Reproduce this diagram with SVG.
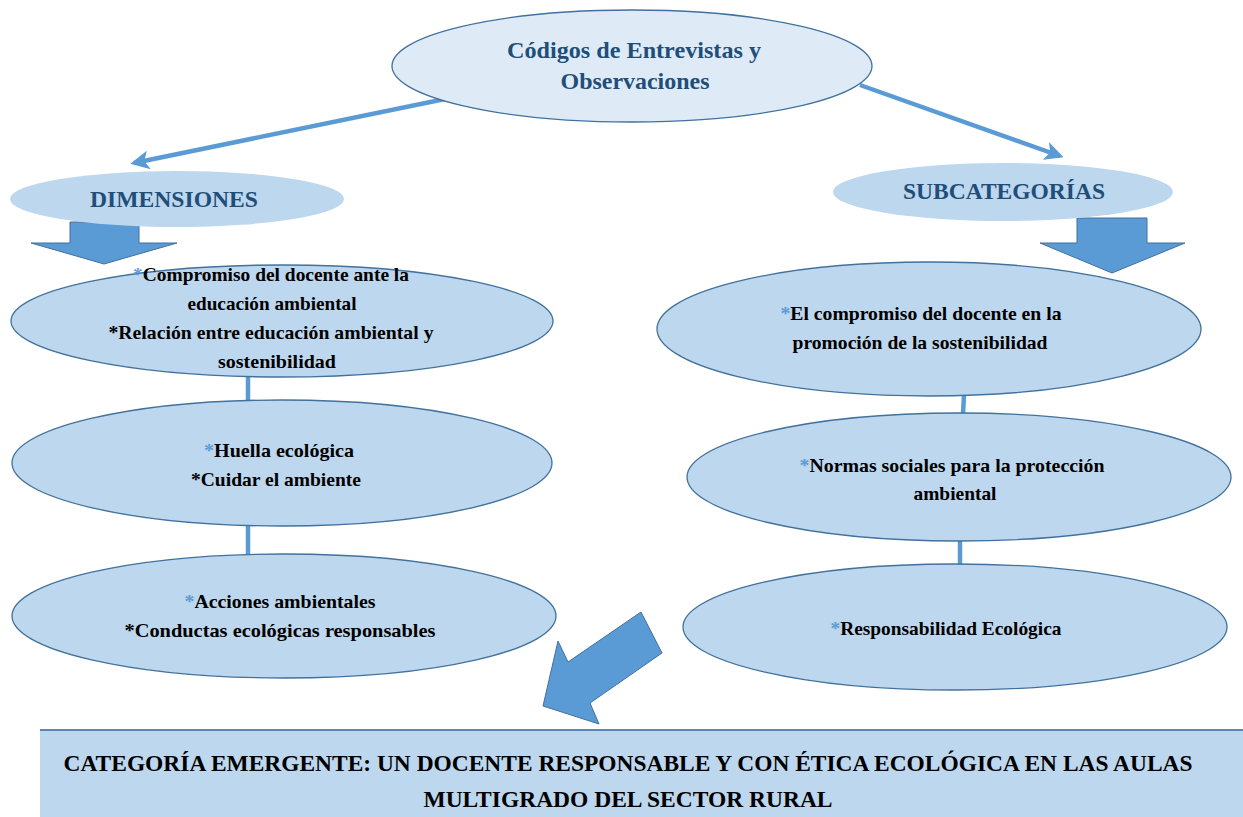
<svg xmlns="http://www.w3.org/2000/svg" width="1243" height="817" viewBox="0 0 1243 817">
<style>
.node{fill:#bdd7ee;stroke:#41719c;stroke-width:1.3}
.top{fill:#deebf7;stroke:#41719c;stroke-width:1.3}
.plain{fill:#bdd7ee}
.t{font-family:"Liberation Serif","Times New Roman",serif;font-weight:bold;fill:#000;font-size:19px}
.h{font-family:"Liberation Serif","Times New Roman",serif;font-weight:bold;fill:#1f4e79;font-size:24px}
.b{font-family:"Liberation Serif","Times New Roman",serif;font-weight:bold;fill:#000;font-size:24px}
.s{fill:#5b9bd5}
.conn{stroke:#5b9bd5;stroke-width:4.5;fill:none}
.blk{fill:#5b9bd5;stroke:#41719c;stroke-width:1}
</style>
<defs>
<marker id="ah" viewBox="0 0 10 10" refX="8" refY="5" markerWidth="4.2" markerHeight="4.2" orient="auto" markerUnits="strokeWidth">
<path d="M0,0 L10,5 L0,10 L2.5,5 Z" fill="#5b9bd5"/>
</marker>
</defs>
<rect width="1243" height="817" fill="#fff"/>
<g id="connectors">
<line class="conn" x1="445" y1="99" x2="134" y2="163" marker-end="url(#ah)"/>
<line class="conn" x1="860" y1="85" x2="1060" y2="156" marker-end="url(#ah)"/>
<line class="conn" x1="248" y1="376" x2="248" y2="401"/>
<line class="conn" x1="248" y1="525" x2="248" y2="554"/>
<line class="conn" x1="964" y1="395" x2="963" y2="414"/>
<line class="conn" x1="960" y1="539" x2="960" y2="564"/>
<polygon class="blk" points="70,222 139,222 139,243 177,243 104,264 31,243 70,243"/>
<polygon class="blk" points="1077,218 1147,218 1147,243 1185,243 1112,273 1040,243 1077,243"/>
<polygon class="blk" points="641,612 662,653 590,703 599,724 543,706 558,641 568,662"/>
</g>
<g id="n-codigos">
<ellipse class="top" cx="632" cy="66" rx="240" ry="56"/>
<text class="h" x="634" y="58" text-anchor="middle" textLength="254" lengthAdjust="spacingAndGlyphs">Códigos de Entrevistas y</text>
<text class="h" x="635" y="89" text-anchor="middle" textLength="149" lengthAdjust="spacingAndGlyphs">Observaciones</text>
</g>
<g id="n-dimensiones">
<ellipse class="plain" cx="177" cy="199" rx="167" ry="28"/>
<text class="h" x="174" y="207" text-anchor="middle" textLength="168" lengthAdjust="spacingAndGlyphs">DIMENSIONES</text>
</g>
<g id="n-subcategorias">
<ellipse class="plain" cx="1003" cy="192" rx="170" ry="29"/>
<text class="h" x="1004" y="199" text-anchor="middle" textLength="202" lengthAdjust="spacingAndGlyphs">SUBCATEGORÍAS</text>
</g>
<g id="n-l1">
<ellipse class="node" cx="282" cy="321" rx="271" ry="56"/>
<text class="t" x="271" y="281" text-anchor="middle" textLength="276" lengthAdjust="spacingAndGlyphs"><tspan class="s">*</tspan>Compromiso del docente ante la</text>
<text class="t" x="272" y="310" text-anchor="middle" textLength="169" lengthAdjust="spacingAndGlyphs">educación ambiental</text>
<text class="t" x="271" y="339" text-anchor="middle" textLength="325" lengthAdjust="spacingAndGlyphs">*Relación entre educación ambiental y</text>
<text class="t" x="277" y="368" text-anchor="middle" textLength="118" lengthAdjust="spacingAndGlyphs">sostenibilidad</text>
</g>
<g id="n-l2">
<ellipse class="node" cx="282" cy="463" rx="270" ry="63"/>
<text class="t" x="279" y="457" text-anchor="middle" textLength="150" lengthAdjust="spacingAndGlyphs"><tspan class="s">*</tspan>Huella ecológica</text>
<text class="t" x="276" y="486" text-anchor="middle" textLength="170" lengthAdjust="spacingAndGlyphs">*Cuidar el ambiente</text>
</g>
<g id="n-l3">
<ellipse class="node" cx="284" cy="616" rx="272" ry="62"/>
<text class="t" x="280" y="608" text-anchor="middle" textLength="191" lengthAdjust="spacingAndGlyphs"><tspan class="s">*</tspan>Acciones ambientales</text>
<text class="t" x="280" y="637" text-anchor="middle" textLength="311" lengthAdjust="spacingAndGlyphs">*Conductas  ecológicas responsables</text>
</g>
<g id="n-r1">
<ellipse class="node" cx="929" cy="329" rx="272" ry="67"/>
<text class="t" x="921" y="320" text-anchor="middle" textLength="281" lengthAdjust="spacingAndGlyphs"><tspan class="s">*</tspan>El compromiso del docente en la</text>
<text class="t" x="920" y="349" text-anchor="middle" textLength="255" lengthAdjust="spacingAndGlyphs">promoción de la sostenibilidad</text>
</g>
<g id="n-r2">
<ellipse class="node" cx="959" cy="477" rx="272" ry="64"/>
<text class="t" x="952" y="472" text-anchor="middle" textLength="305" lengthAdjust="spacingAndGlyphs"><tspan class="s">*</tspan>Normas sociales para la protección</text>
<text class="t" x="955" y="500" text-anchor="middle" textLength="83" lengthAdjust="spacingAndGlyphs">ambiental</text>
</g>
<g id="n-r3">
<ellipse class="node" cx="955" cy="627" rx="272" ry="63"/>
<text class="t" x="946" y="635" text-anchor="middle" textLength="231" lengthAdjust="spacingAndGlyphs"><tspan class="s">*</tspan>Responsabilidad Ecológica</text>
</g>
<g id="n-categoria">
<rect class="plain" x="40" y="730" width="1210" height="90"/>
<line x1="40" y1="730" x2="1243" y2="730" stroke="#5a86b5" stroke-width="2"/>
<text class="b" x="628" y="771" text-anchor="middle" textLength="1129" lengthAdjust="spacingAndGlyphs">CATEGORÍA EMERGENTE: UN DOCENTE RESPONSABLE Y CON ÉTICA ECOLÓGICA EN LAS AULAS</text>
<text class="b" x="628" y="807" text-anchor="middle" textLength="409" lengthAdjust="spacingAndGlyphs">MULTIGRADO DEL SECTOR RURAL</text>
</g>
</svg>
